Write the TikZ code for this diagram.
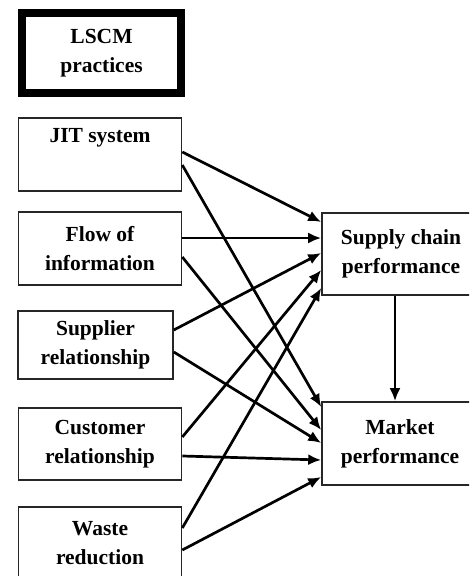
\documentclass[tikz,border=0pt]{standalone}
\usepackage{fontspec}
\setmainfont{Liberation Serif}
\usetikzlibrary{arrows.meta}
\begin{document}
\begin{tikzpicture}[x=1pt,y=-1pt,
  txt/.style={inner sep=0pt, align=center, font=\fontsize{21.5pt}{29pt}\selectfont\bfseries},
  box/.style={txt, draw=black!85, line width=1.6pt, minimum width=163pt, minimum height=73pt},
  arr/.style={line width=2.7pt, -{Latex[length=13pt,width=11pt]}}]
\path[use as bounding box, clip] (0,0) rectangle (469,576);
\fill[white] (0,0) rectangle (469,576);

\node[txt, draw=black, line width=7.5pt, minimum width=159pt, minimum height=80pt] (lscm) at (101.5,53) {LSCM\\practices};

\node[box] (jit) at (100,154.5) {JIT system\\\strut};
\node[box] (flow) at (100,248.5) {Flow of\\information};
\node[box, minimum width=155pt, minimum height=68pt] (sup) at (95.5,345) {Supplier\\relationship};
\node[box, minimum height=72pt] (cus) at (100,444) {Customer\\relationship};
\node[box] (was) at (100,543.5) {Waste\\reduction};

\node[box, minimum width=158pt, minimum height=82pt] (sc) at (401,254) {Supply chain\\performance};
\node[box, minimum width=156pt, minimum height=83pt] (mk) at (400,443.5) {Market\\performance};

\draw[arr] ([yshift=2.5pt]jit.east) -- ([yshift=32pt]sc.west);
\draw[arr] ([yshift=-10.5pt]jit.east) -- ([yshift=36.5pt]mk.west);
\draw[arr] ([yshift=10.5pt]flow.east) -- ([yshift=16pt]sc.west);
\draw[arr] ([yshift=-8.5pt]flow.east) -- ([yshift=13.5pt]mk.west);
\draw[arr] ([yshift=15pt]sup.east) -- ([yshift=1pt]sc.west);
\draw[arr] ([yshift=-7pt]sup.east) -- ([yshift=0.5pt]mk.west);
\draw[arr] ([yshift=7pt]cus.east) -- ([yshift=-16pt]sc.west);
\draw[arr] ([yshift=-12pt]cus.east) -- ([yshift=-16.5pt]mk.west);
\draw[arr] ([yshift=15.5pt]was.east) -- ([yshift=-34pt]sc.west);
\draw[arr] ([yshift=-6.5pt]was.east) -- ([yshift=-33.5pt]mk.west);

\draw[arr] ([xshift=-6pt]sc.south) -- ([xshift=-5pt]mk.north);
\end{tikzpicture}
\end{document}
